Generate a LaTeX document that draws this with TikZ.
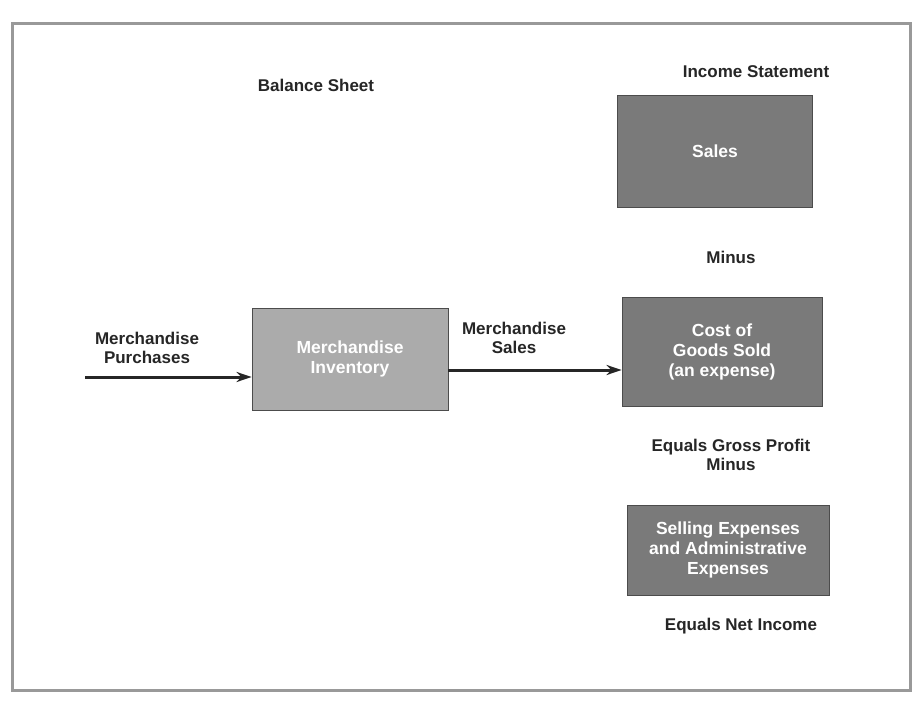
\documentclass[tikz,border=0pt]{standalone}
\usepackage{fontspec}
\setmainfont{Liberation Sans}
\usetikzlibrary{arrows.meta}
\begin{document}
\begin{tikzpicture}[x=1pt,y=-1pt,
  label/.style={font=\bfseries\fontsize{17}{19}\selectfont, align=center, text=black!85},
  account/.style={draw=black!70, line width=0.8pt, fill=black!52, inner sep=0pt,
    font=\bfseries\fontsize{17.5}{20}\selectfont, align=center, text=white},
  lightaccount/.style={account, fill=black!33},
  flow/.style={line width=3pt, draw=black!85, -{Stealth[length=15pt,width=10pt]}}]
  % page and frame
  \useasboundingbox (0,0) rectangle (917,711);
  \fill[white] (0,0) rectangle (917,711);
  \draw[black!40, line width=3pt] (12,24) rectangle (910,690);

  % column headings
  \node[label] (bs) at (316,85) {Balance Sheet};
  \node[label] (is) at (756,72) {Income Statement};

  % balance sheet account
  \node[lightaccount, minimum width=196pt, minimum height=102pt] (inv) at (350,359)
    {Merchandise\\Inventory};

  % income statement accounts
  \node[account, minimum width=195pt, minimum height=112pt] (sales) at (715,151) {Sales};
  \node[label] (minus1) at (731,257) {Minus};
  \node[account, minimum width=200pt, minimum height=109pt] (cogs) at (722,352)
    {Cost of\\Goods Sold\\(an expense)};
  \node[label] (gross) at (731,455) {Equals Gross Profit\\Minus};
  \node[account, minimum width=202pt, minimum height=90pt] (sell) at (728,550)
    {Selling Expenses\\and Administrative\\Expenses};
  \node[label] (net) at (741,626) {Equals Net Income};

  % flows
  \coordinate (src) at (85,377);
  \node[label] (purch) at (147,348) {Merchandise\\Purchases};
  \node[label] (msales) at (514,338) {Merchandise\\Sales};
  \draw[flow] (src) -- (src -| inv.west);
  \draw[flow] (inv.east |- 0,370) -- (cogs.west |- 0,370);
\end{tikzpicture}
\end{document}
